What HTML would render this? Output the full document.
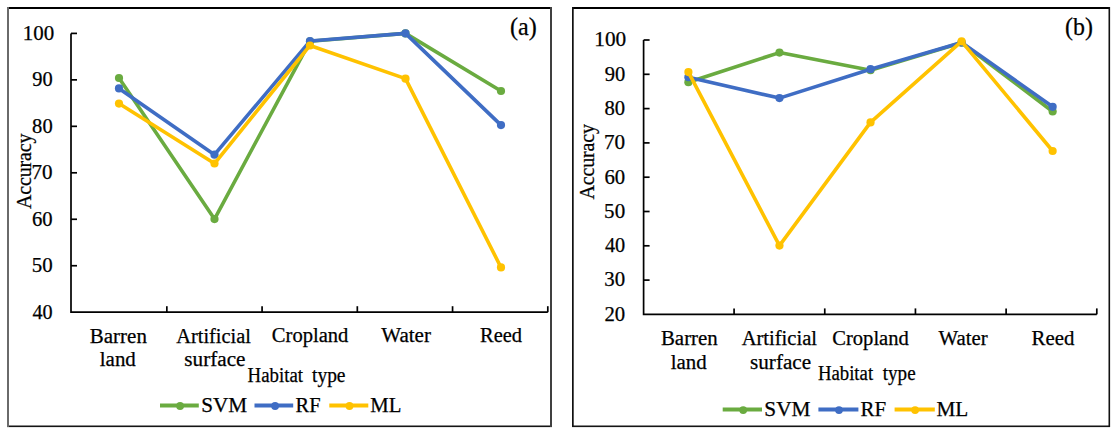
<!DOCTYPE html>
<html><head><meta charset="utf-8"><style>
html,body{margin:0;padding:0;background:#fff;}
body{width:1116px;height:433px;overflow:hidden;}
svg{display:block;font-family:"Liberation Serif", serif;}
text{fill:#000;stroke:#000;stroke-width:0.25px;}
</style></head><body>
<svg width="1116" height="433" viewBox="0 0 1116 433">
<rect width="1116" height="433" fill="#fff"/>
<rect x="7" y="7" width="545" height="2" fill="#000"/>
<rect x="7" y="425.5" width="545" height="1.6" fill="#151515"/>
<rect x="7" y="7" width="2" height="420" fill="#6a6a6a"/>
<rect x="550" y="7" width="2" height="420" fill="#404040"/>
<path d="M71 33.4V312.2H547.8" fill="none" stroke="#000" stroke-width="1.7" stroke-linejoin="miter"/>
<path d="M71 265.73H77" stroke="#000" stroke-width="1.7"/>
<path d="M71 219.27H77" stroke="#000" stroke-width="1.7"/>
<path d="M71 172.80H77" stroke="#000" stroke-width="1.7"/>
<path d="M71 126.33H77" stroke="#000" stroke-width="1.7"/>
<path d="M71 79.87H77" stroke="#000" stroke-width="1.7"/>
<path d="M71 33.40H77" stroke="#000" stroke-width="1.7"/>
<path d="M166.84 312.2V306.2" stroke="#000" stroke-width="1.7"/>
<path d="M262.08 312.2V306.2" stroke="#000" stroke-width="1.7"/>
<path d="M357.32 312.2V306.2" stroke="#000" stroke-width="1.7"/>
<path d="M452.56 312.2V306.2" stroke="#000" stroke-width="1.7"/>
<path d="M547.80 312.2V306.2" stroke="#000" stroke-width="1.7"/>
<text x="32.51" y="318.60" font-size="20" textLength="20.15" lengthAdjust="spacingAndGlyphs">40</text>
<text x="31.74" y="272.13" font-size="20" textLength="20.92" lengthAdjust="spacingAndGlyphs">50</text>
<text x="32.04" y="225.67" font-size="20" textLength="20.62" lengthAdjust="spacingAndGlyphs">60</text>
<text x="31.58" y="179.20" font-size="20" textLength="21.08" lengthAdjust="spacingAndGlyphs">70</text>
<text x="32.14" y="132.73" font-size="20" textLength="20.52" lengthAdjust="spacingAndGlyphs">80</text>
<text x="32.26" y="86.27" font-size="20" textLength="20.41" lengthAdjust="spacingAndGlyphs">90</text>
<text x="22.74" y="39.80" font-size="20" textLength="31.42" lengthAdjust="spacingAndGlyphs">100</text>
<text x="89.82" y="342.50" font-size="20" textLength="57.08" lengthAdjust="spacingAndGlyphs">Barren</text>
<text x="99.80" y="366.10" font-size="20" textLength="36.04" lengthAdjust="spacingAndGlyphs">land</text>
<text x="176.30" y="342.50" font-size="20" textLength="74.60" lengthAdjust="spacingAndGlyphs">Artificial</text>
<text x="184.38" y="365.80" font-size="20" textLength="61.11" lengthAdjust="spacingAndGlyphs">surface</text>
<text x="271.88" y="342.30" font-size="20" textLength="76.46" lengthAdjust="spacingAndGlyphs">Cropland</text>
<text x="381.28" y="342.30" font-size="20" textLength="49.70" lengthAdjust="spacingAndGlyphs">Water</text>
<text x="480.02" y="342.30" font-size="20" textLength="42.02" lengthAdjust="spacingAndGlyphs">Reed</text>
<text x="247.61" y="381.70" font-size="20.5" textLength="55.41" lengthAdjust="spacingAndGlyphs">Habitat</text>
<text x="312.00" y="381.70" font-size="20.5" textLength="33.51" lengthAdjust="spacingAndGlyphs">type</text>
<text x="510.02" y="35.10" font-size="24.5" textLength="26.75" lengthAdjust="spacingAndGlyphs">(a)</text>
<text x="201.23" y="412.00" font-size="20.5" textLength="45.97" lengthAdjust="spacingAndGlyphs">SVM</text>
<text x="295.61" y="412.00" font-size="20.5" textLength="24.93" lengthAdjust="spacingAndGlyphs">RF</text>
<text x="370.21" y="412.00" font-size="20.5" textLength="31.12" lengthAdjust="spacingAndGlyphs">ML</text>
<path d="M119.00 78.01 L214.50 219.03 L310.00 41.30 L405.50 33.40 L501.00 91.02" fill="none" stroke="#6AAB40" stroke-width="3.6" stroke-linejoin="round" stroke-linecap="round"/>
<circle cx="119.00" cy="78.01" r="4.1" fill="#6AAB40"/>
<circle cx="214.50" cy="219.03" r="4.1" fill="#6AAB40"/>
<circle cx="310.00" cy="41.30" r="4.1" fill="#6AAB40"/>
<circle cx="405.50" cy="33.40" r="4.1" fill="#6AAB40"/>
<circle cx="501.00" cy="91.02" r="4.1" fill="#6AAB40"/>
<path d="M119.00 88.46 L214.50 154.68 L310.00 41.07 L405.50 33.40 L501.00 125.08" fill="none" stroke="#3F6DC4" stroke-width="3.6" stroke-linejoin="round" stroke-linecap="round"/>
<circle cx="119.00" cy="88.46" r="4.1" fill="#3F6DC4"/>
<circle cx="214.50" cy="154.68" r="4.1" fill="#3F6DC4"/>
<circle cx="310.00" cy="41.07" r="4.1" fill="#3F6DC4"/>
<circle cx="405.50" cy="33.40" r="4.1" fill="#3F6DC4"/>
<circle cx="501.00" cy="125.08" r="4.1" fill="#3F6DC4"/>
<path d="M119.00 103.56 L214.50 163.51 L310.00 45.48 L405.50 78.66 L501.00 267.45" fill="none" stroke="#FFC200" stroke-width="3.6" stroke-linejoin="round" stroke-linecap="round"/>
<circle cx="119.00" cy="103.56" r="4.1" fill="#FFC200"/>
<circle cx="214.50" cy="163.51" r="4.1" fill="#FFC200"/>
<circle cx="310.00" cy="45.48" r="4.1" fill="#FFC200"/>
<circle cx="405.50" cy="78.66" r="4.1" fill="#FFC200"/>
<circle cx="501.00" cy="267.45" r="4.1" fill="#FFC200"/>
<text transform="translate(30.6 209) rotate(-90)" font-size="20" textLength="75.6" lengthAdjust="spacing">Accuracy</text>
<path d="M160 405.5H198.8" stroke="#6AAB40" stroke-width="4"/>
<circle cx="180.1" cy="406.0" r="3.9" fill="#6AAB40"/>
<path d="M254.5 405.5H293.2" stroke="#3F6DC4" stroke-width="4"/>
<circle cx="275.1" cy="406.0" r="3.9" fill="#3F6DC4"/>
<path d="M329.3 405.5H368.3" stroke="#FFC200" stroke-width="4"/>
<circle cx="349.5" cy="406.0" r="3.9" fill="#FFC200"/>
<rect x="572" y="7" width="538" height="2" fill="#000"/>
<rect x="572" y="425.5" width="538" height="1.6" fill="#151515"/>
<rect x="572" y="7" width="1.7" height="420" fill="#111"/>
<rect x="1108.5" y="7" width="1.6" height="420" fill="#111"/>
<path d="M643.6 40V314.4H1096.8" fill="none" stroke="#000" stroke-width="1.7" stroke-linejoin="miter"/>
<path d="M643.6 280.10H649.6" stroke="#000" stroke-width="1.7"/>
<path d="M643.6 245.80H649.6" stroke="#000" stroke-width="1.7"/>
<path d="M643.6 211.50H649.6" stroke="#000" stroke-width="1.7"/>
<path d="M643.6 177.20H649.6" stroke="#000" stroke-width="1.7"/>
<path d="M643.6 142.90H649.6" stroke="#000" stroke-width="1.7"/>
<path d="M643.6 108.60H649.6" stroke="#000" stroke-width="1.7"/>
<path d="M643.6 74.30H649.6" stroke="#000" stroke-width="1.7"/>
<path d="M643.6 40.00H649.6" stroke="#000" stroke-width="1.7"/>
<path d="M734.08 314.4V308.4" stroke="#000" stroke-width="1.7"/>
<path d="M824.76 314.4V308.4" stroke="#000" stroke-width="1.7"/>
<path d="M915.44 314.4V308.4" stroke="#000" stroke-width="1.7"/>
<path d="M1006.12 314.4V308.4" stroke="#000" stroke-width="1.7"/>
<path d="M1096.80 314.4V308.4" stroke="#000" stroke-width="1.7"/>
<text x="604.42" y="320.70" font-size="20" textLength="20.74" lengthAdjust="spacingAndGlyphs">20</text>
<text x="604.34" y="286.40" font-size="20" textLength="20.82" lengthAdjust="spacingAndGlyphs">30</text>
<text x="604.91" y="252.10" font-size="20" textLength="20.25" lengthAdjust="spacingAndGlyphs">40</text>
<text x="604.14" y="217.80" font-size="20" textLength="21.02" lengthAdjust="spacingAndGlyphs">50</text>
<text x="604.44" y="183.50" font-size="20" textLength="20.72" lengthAdjust="spacingAndGlyphs">60</text>
<text x="603.98" y="149.20" font-size="20" textLength="21.18" lengthAdjust="spacingAndGlyphs">70</text>
<text x="604.54" y="114.90" font-size="20" textLength="20.62" lengthAdjust="spacingAndGlyphs">80</text>
<text x="604.66" y="80.60" font-size="20" textLength="20.51" lengthAdjust="spacingAndGlyphs">90</text>
<text x="594.34" y="46.30" font-size="20" textLength="31.92" lengthAdjust="spacingAndGlyphs">100</text>
<text x="660.92" y="345.20" font-size="20" textLength="56.88" lengthAdjust="spacingAndGlyphs">Barren</text>
<text x="670.70" y="368.70" font-size="20" textLength="35.94" lengthAdjust="spacingAndGlyphs">land</text>
<text x="741.70" y="345.20" font-size="20" textLength="75.30" lengthAdjust="spacingAndGlyphs">Artificial</text>
<text x="750.08" y="368.70" font-size="20" textLength="61.01" lengthAdjust="spacingAndGlyphs">surface</text>
<text x="832.28" y="344.80" font-size="20" textLength="76.56" lengthAdjust="spacingAndGlyphs">Cropland</text>
<text x="938.48" y="344.90" font-size="20" textLength="49.10" lengthAdjust="spacingAndGlyphs">Water</text>
<text x="1031.62" y="344.90" font-size="20" textLength="42.82" lengthAdjust="spacingAndGlyphs">Reed</text>
<text x="817.91" y="380.20" font-size="20.5" textLength="55.21" lengthAdjust="spacingAndGlyphs">Habitat</text>
<text x="882.80" y="380.20" font-size="20.5" textLength="32.81" lengthAdjust="spacingAndGlyphs">type</text>
<text x="1065.02" y="35.10" font-size="24.5" textLength="27.85" lengthAdjust="spacingAndGlyphs">(b)</text>
<text x="764.33" y="415.90" font-size="20.5" textLength="46.17" lengthAdjust="spacingAndGlyphs">SVM</text>
<text x="860.41" y="415.90" font-size="20.5" textLength="25.63" lengthAdjust="spacingAndGlyphs">RF</text>
<text x="936.41" y="415.90" font-size="20.5" textLength="31.82" lengthAdjust="spacingAndGlyphs">ML</text>
<path d="M688.40 82.19 L779.46 52.59 L870.52 70.18 L961.58 42.74 L1052.64 111.52" fill="none" stroke="#6AAB40" stroke-width="3.6" stroke-linejoin="round" stroke-linecap="round"/>
<circle cx="688.40" cy="82.19" r="4.1" fill="#6AAB40"/>
<circle cx="779.46" cy="52.59" r="4.1" fill="#6AAB40"/>
<circle cx="870.52" cy="70.18" r="4.1" fill="#6AAB40"/>
<circle cx="961.58" cy="42.74" r="4.1" fill="#6AAB40"/>
<circle cx="1052.64" cy="111.52" r="4.1" fill="#6AAB40"/>
<path d="M688.40 77.18 L779.46 98.10 L870.52 69.19 L961.58 42.40 L1052.64 106.78" fill="none" stroke="#3F6DC4" stroke-width="3.6" stroke-linejoin="round" stroke-linecap="round"/>
<circle cx="688.40" cy="77.18" r="4.1" fill="#3F6DC4"/>
<circle cx="779.46" cy="98.10" r="4.1" fill="#3F6DC4"/>
<circle cx="870.52" cy="69.19" r="4.1" fill="#3F6DC4"/>
<circle cx="961.58" cy="42.40" r="4.1" fill="#3F6DC4"/>
<circle cx="1052.64" cy="106.78" r="4.1" fill="#3F6DC4"/>
<path d="M688.40 72.10 L779.46 245.59 L870.52 122.39 L961.58 41.37 L1052.64 150.99" fill="none" stroke="#FFC200" stroke-width="3.6" stroke-linejoin="round" stroke-linecap="round"/>
<circle cx="688.40" cy="72.10" r="4.1" fill="#FFC200"/>
<circle cx="779.46" cy="245.59" r="4.1" fill="#FFC200"/>
<circle cx="870.52" cy="122.39" r="4.1" fill="#FFC200"/>
<circle cx="961.58" cy="41.37" r="4.1" fill="#FFC200"/>
<circle cx="1052.64" cy="150.99" r="4.1" fill="#FFC200"/>
<text transform="translate(594.3 199.5) rotate(-90)" font-size="20" textLength="75.6" lengthAdjust="spacing">Accuracy</text>
<path d="M722.7 409.6H762" stroke="#6AAB40" stroke-width="4"/>
<circle cx="743.2" cy="410.1" r="3.9" fill="#6AAB40"/>
<path d="M818.4 409.6H858.4" stroke="#3F6DC4" stroke-width="4"/>
<circle cx="839" cy="410.1" r="3.9" fill="#3F6DC4"/>
<path d="M894.6 409.6H934.8" stroke="#FFC200" stroke-width="4"/>
<circle cx="915.1" cy="410.1" r="3.9" fill="#FFC200"/>
</svg>
</body></html>
